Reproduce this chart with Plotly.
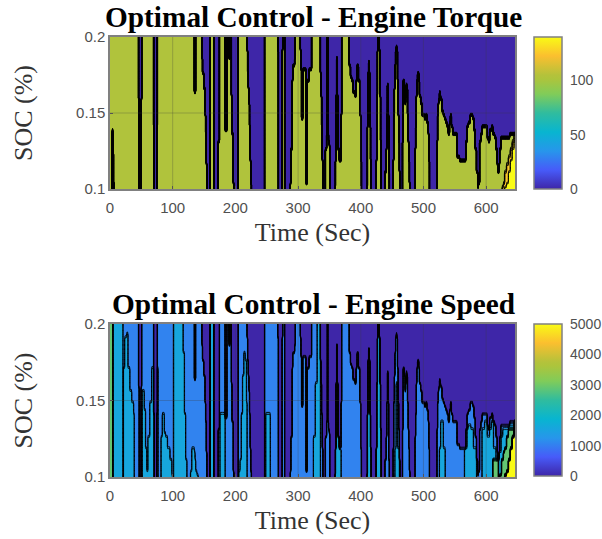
import plotly.graph_objects as go

TITLE_TORQUE = "Optimal Control - Engine Torque"
TITLE_SPEED = "Optimal Control - Engine Speed"
TIME_TICKS = [0, 100, 200, 300, 400, 500, 600]
SOC_TICKS = [0.1, 0.15, 0.2]
SOC_LABELS = ["0.1", "0.15", "0.2"]
TORQUE_CBAR_TICKS = [0, 50, 100]
SPEED_CBAR_TICKS = [0, 1000, 2000, 3000, 4000, 5000]
SOC_ROWS = [0.1 + 0.0025 * i for i in range(41)]

TORQUE_ON, TORQUE_ORANGE, TORQUE_MAX = 105, 122, 140
SPEED_SKY, SPEED_CYAN, SPEED_GREEN, SPEED_MAX = 1200, 1700, 3000, 5000

# (time, SOC below which the engine runs); 0.09 = engine off in that column, 0.21 = on up to the top
ON_TOP = [
 (0,.21),(45,.21),(46,.158),(47,.09),(49,.09),(50,.158),(51,.21),(69,.21),(70,.14),(71,.09),(74,.09),(75,.14),(76,.21),
 (134,.21),(135,.164),(136,.164),(137,.21),(146,.2),(147,.185),(148,.175),(150,.165),(152,.15),(153,.135),(154,.115),(155,.09),
 (160,.21),(166,.09),(173,.13),(175,.21),(184,.138),(187,.21),(190,.185),(192,.21),(194,.16),(195,.135),(197,.105),(198,.09),(205,.21),
 (219,.19),(220,.175),(221,.165),(222,.155),(223,.14),(224,.12),(225,.105),(226,.09),(247,.21),
 (268,.19),(269,.09),(275,.19),(276,.21),(279,.09),(288,.105),(289,.126),(291,.17),(292,.18),(295,.185),(296,.21),
 (304,.19),(305,.178),(306,.147),(308,.178),(313,.105),(315,.17),(318,.178),(322,.2),(323,.21),
 (335,.2),(336,.176),(337,.16),(338,.14),(339,.12),(340,.09),(344,.125),(346,.135),(347,.21),(348,.135),(349,.13),(350,.128),(351,.09),
 (359,.10),(360,.12),(361,.16),(362,.187),(363,.16),(364,.125),(366,.118),(368,.12),(369,.15),(370,.2),(371,.21),
 (381,.2),(382,.18),(384,.174),(386,.17),(388,.163),(391,.16),(393,.17),(394.5,.18),(396.7,.17),(399,.15),(400.4,.12),(401.5,.09),
 (410,.10),(411,.14),(412,.175),(413,.184),(414,.175),(415,.14),(416,.12),(417,.09),
 (425,.12),(426,.16),(427,.19),(428,.21),(430,.19),(431,.16),(432,.13),(433,.09),
 (439,.11),(441,.125),(442,.15),(443,.169),(444,.15),(445,.11),(446,.09),
 (452,.12),(453,.15),(454,.165),(455,.18),(456,.19),(457,.193),(458,.19),(459,.17),(460,.15),(461,.13),(462,.11),(463,.09),
 (467,.13),(468,.17),(469,.172),(470,.165),(471,.155),(472,.16),(473,.168),(474,.165),(475,.15),(476,.13),(477,.12),(478,.105),(479,.09),
 (487,.125),(488,.14),(489,.16),(490,.172),(491,.176),(493,.17),(494,.16),(496,.155),(498,.15),(500,.148),(502,.147),(504,.148),(506,.145),(508,.135),(509,.12),(510,.09),
 (522,.13),(523,.15),(524,.155),(525,.158),(526,.164),(527,.162),(528,.158),(530,.152),(532,.15),(534,.147),(536,.143),(538,.14),(540,.135),(542,.144),(543.5,.148),(545,.14),(547,.135),
 (554,.121),(556,.122),(558,.12),(564,.118),(568,.13),(570,.14),(572,.145),(575,.15),(579,.147),(581,.138),(583,.125),(585,.11),(587,.102),(588,.105),(590,.13),(592,.135),(594,.14),(598,.142),(600,.14),(602,.134),(604,.132),(606,.138),(609,.14),(611,.136),(614,.134),(616,.125),(618,.115),(619,.112),(621,.115),(622,.125),(623.7,.134),(630,.134),(638,.135),(644,.136),(646,.137),
]
# (time, SOC above which the engine runs): slivers that start at the lower edge
ON_BOTTOM = [(0,.09),(4,.14),(5,.125),(6,.105),(7,.09)]
# (time, SOC below which the faster speed band holds)
CYAN_TOP = [
 (0,.21),(21,.09),(22,.17),(24,.19),(27,.194),(29,.17),(32,.155),(35,.15),(38,.14),(39,.09),(52,.155),(55,.145),(57,.12),(59,.105),(61,.125),(64,.15),(67,.17),
 (77,.09),(82,.125),(84,.14),(87,.128),(89,.125),(92,.12),(96,.11),(99,.10),(100,.09),(102,.21),(117,.18),(119,.14),(121,.11),(123,.09),(129,.105),(131,.12),(135,.115),(136,.11),(137,.105),(139,.1),(141,.09),
 (160,.21),(166,.09),(176,.14),(184,.09),(206,.105),(208,.11),(210,.14),(212,.165),(214,.18),(216,.175),(218,.15),(219,.09),
 (249,.14),(256,.09),(325,.125),(328,.16),(331,.21),(336,.09),(359,.21),(369,.09),(410,.21),(418,.09),(425,.21),(434,.09),(455,.12),(457,.16),(459,.12),(462,.09),
 (526,.12),(528,.135),(532,.12),(535,.09),(566,.12),(570,.13),(572,.134),(576,.13),(580,.12),(585,.09),(594,.13),(598,.135),(602,.125),(606,.13),(609,.135),(612,.12),(616,.11),(621,.115),(624,.125),(627,.13),(636,.134),
]
GREEN_TOP = [(0,.21),(5,.09),(611,.11),(620,.09),(622,.1),(625,.11),(628,.115),(630,.12),(633,.125),(636,.13),(640,.132),(645,.135)]
ORANGE_TOP = [(0,.09),(626,.1),(628,.105),(630,.11),(633,.116),(636,.122),(639,.127),(642,.132),(645,.136)]
YELLOW_TOP = [(0,.09),(630,.1),(633,.105),(636,.112),(639,.118),(642,.125),(645,.132)]

PARULA = [[0,"#3e26a8"],[.125,"#475bf9"],[.25,"#2796eb"],[.375,"#08b5d0"],[.5,"#30bc9e"],
          [.625,"#81cc59"],[.725,"#adc43c"],[.75,"#b4c23b"],[.875,"#fbbf2f"],[1,"#f9fb15"]]


def hold(pairs, t):
    v = pairs[0][1]
    for pt, pv in pairs:
        if pt <= t:
            v = pv
    return v


breaks = {t for lst in (ON_TOP, ON_BOTTOM, CYAN_TOP, GREEN_TOP, ORANGE_TOP, YELLOW_TOP) for t, _ in lst}
columns = sorted(breaks | {t - 0.9 for t in breaks if t > 0.9})
torque, speed = [], []
for soc in SOC_ROWS:
    trow, srow = [], []
    for t in columns:
        on = soc <= hold(ON_TOP, t)
        if soc <= hold(YELLOW_TOP, t):
            trow.append(TORQUE_MAX); srow.append(SPEED_MAX); continue
        if soc <= hold(ORANGE_TOP, t):
            trow.append(TORQUE_ORANGE)
        elif on and soc >= hold(ON_BOTTOM, t):
            trow.append(TORQUE_ON)
        else:
            trow.append(0)
        if soc <= hold(GREEN_TOP, t):
            srow.append(SPEED_GREEN)
        elif not on:
            srow.append(0)
        elif soc <= hold(CYAN_TOP, t):
            srow.append(SPEED_CYAN)
        else:
            srow.append(SPEED_SKY)
    torque.append(trow); speed.append(srow)

W, H = 602, 539
XD = [110 / W, 515 / W]
Y1 = [1 - 189 / H, 1 - 37 / H]
Y2 = [1 - 477 / H, 1 - 324 / H]
CB_X = 534 / W
SERIF = "Liberation Serif"
TICK = dict(family="Liberation Sans", size=15, color="#505050")
CB_TICK = dict(family="Liberation Sans", size=14, color="#505050")
AXIS_TITLE = dict(family=SERIF, size=26, color="#333333")

fig = go.Figure()


def panel(n, z, zmax, step, cticks, ytop):
    xa, ya = ("x", "y") if n == 1 else ("x2", "y2")
    fig.add_trace(go.Heatmap(z=[[0, zmax]], x=[0, 646], y=[0.15], xaxis=xa, yaxis=ya, zmin=0, zmax=zmax,
                             colorscale=PARULA, hoverinfo="skip",
                             colorbar=dict(x=CB_X, xanchor="left", xpad=0, ypad=0, y=ytop, yanchor="top",
                                           thicknessmode="pixels", thickness=28, lenmode="pixels", len=152,
                                           tickvals=cticks, tickfont=CB_TICK, ticks="outside", ticklen=5,
                                           tickcolor="rgba(0,0,0,0)", outlinecolor="#808080", outlinewidth=1.5)))
    fig.add_trace(go.Contour(z=z, x=columns, y=SOC_ROWS, xaxis=xa, yaxis=ya, zmin=0, zmax=zmax, colorscale=PARULA,
                             showscale=False, autocontour=False,
                             contours=dict(coloring="fill", start=step, end=zmax - step, size=step, showlines=True),
                             line=dict(color="black", width=1, smoothing=0)))
    gx, gy = [], []
    for t in TIME_TICKS[1:]:
        gx += [t, t, None]; gy += [0.1, 0.2, None]
    gx += [0, 646]; gy += [0.15, 0.15]
    fig.add_trace(go.Scatter(x=gx, y=gy, xaxis=xa, yaxis=ya, mode="lines", hoverinfo="skip", showlegend=False,
                             line=dict(color="rgba(60,60,60,0.28)", width=1)))


panel(1, torque, TORQUE_MAX, 7, TORQUE_CBAR_TICKS, Y1[1])
panel(2, speed, SPEED_MAX, 250, SPEED_CBAR_TICKS, Y2[1])

ax_common = dict(range=[0, 646], domain=XD, tickvals=TIME_TICKS, ticks="inside", ticklen=3, tickcolor="#555",
                 tickfont=TICK, ticklabelstandoff=4, showgrid=False, zeroline=False, showline=True,
                 linecolor="#808080", linewidth=1.5, mirror=True,
                 title=dict(text="Time (Sec)", font=AXIS_TITLE, standoff=8))
ay_common = dict(range=[0.1, 0.2], tickvals=SOC_TICKS, ticktext=SOC_LABELS, ticks="inside", ticklen=3,
                 tickcolor="#555", tickfont=TICK, showgrid=False, zeroline=False, showline=True, linecolor="#808080",
                 linewidth=1.5, mirror=True, title=dict(text="SOC (%)", font=AXIS_TITLE, standoff=36))

fig.update_layout(
    width=W, height=H, autosize=False, margin=dict(l=0, r=0, t=0, b=0, autoexpand=False),
    paper_bgcolor="white", plot_bgcolor="white", showlegend=False,
    xaxis=dict(ax_common, anchor="y"), yaxis=dict(ay_common, domain=Y1, anchor="x"),
    xaxis2=dict(ax_common, anchor="y2"), yaxis2=dict(ay_common, domain=Y2, anchor="x2"),
    annotations=[
        dict(text="<b>%s</b>" % TITLE_TORQUE, x=313 / W, y=1 - 17 / H, xref="paper", yref="paper",
             showarrow=False, font=dict(family=SERIF, size=29.3, color="black"), xanchor="center", yanchor="middle"),
        dict(text="<b>%s</b>" % TITLE_SPEED, x=313.5 / W, y=1 - 304 / H, xref="paper", yref="paper",
             showarrow=False, font=dict(family=SERIF, size=29.3, color="black"), xanchor="center", yanchor="middle"),
    ],
)
# the page's default body margin would push the figure 8 px away from the window corner
fig.write_html("out.html", config={"displayModeBar": False}, post_script="document.body.style.margin='0';")
